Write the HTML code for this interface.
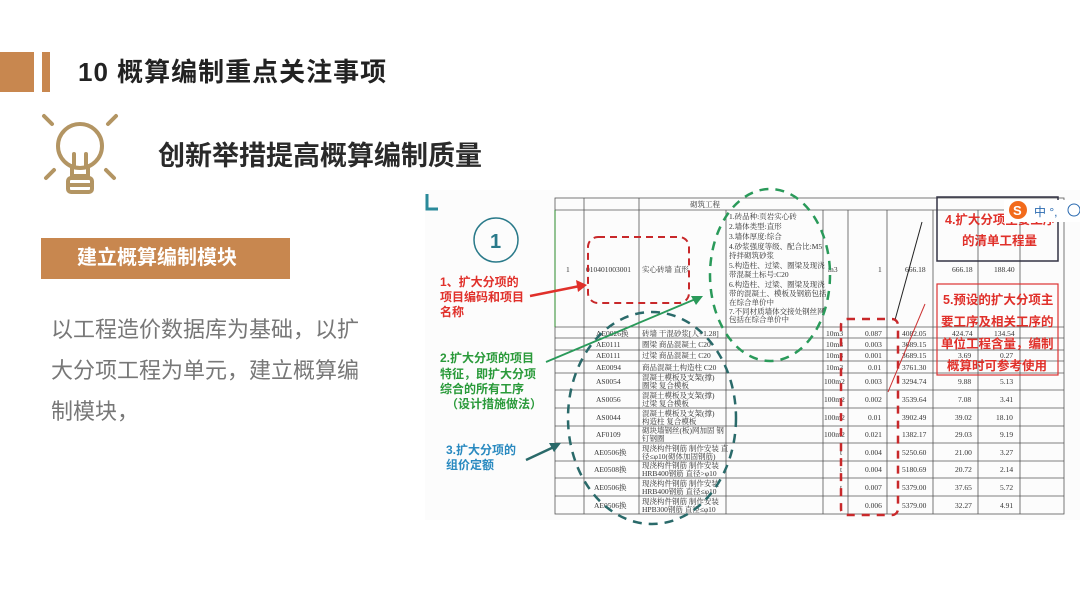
<!DOCTYPE html>
<html><head><meta charset="utf-8"><style>
*{margin:0;padding:0;box-sizing:border-box}
body{width:1080px;height:606px;background:#fff;position:relative;overflow:hidden;font-family:"Liberation Sans","Noto Sans CJK SC",sans-serif}
.a{position:absolute}
</style></head><body>
<div class="a" style="left:0;top:52px;width:34px;height:40px;background:#c8874f"></div>
<div class="a" style="left:42px;top:52px;width:8px;height:40px;background:#c8874f"></div>
<div class="a" style="left:78px;top:55px;font-size:26px;font-weight:bold;color:#222;line-height:34px;letter-spacing:1px">10 概算编制重点关注事项</div>
<svg class="a" style="left:40px;top:108px" width="84" height="90" viewBox="0 0 84 90">
<g stroke="#b39563" stroke-width="4" fill="none" stroke-linecap="round">
<circle cx="40" cy="38" r="22"/>
<path d="M4 8 L12 16 M76 8 L68 16 M6 70 L14 62 M74 70 L66 62"/>
<path d="M32 58 L32 68 L48 68 L48 58 M34 46 L34 58 M46 46 L46 58"/>
<rect x="28" y="70" width="24" height="14" rx="3"/>
<path d="M28 77 L52 77"/>
</g></svg>
<div class="a" style="left:158px;top:138px;font-size:27px;font-weight:bold;color:#2a2a2a;line-height:36px">创新举措提高概算编制质量</div>
<div class="a" style="left:41px;top:238px;width:249px;height:41px;background:#c8874f;color:#fff;font-size:20px;font-weight:bold;line-height:41px;padding-left:36px">建立概算编制模块</div>
<div class="a" style="left:51px;top:309px;width:330px;font-size:22px;color:#777;line-height:41px">以工程造价数据库为基础，以扩<br>大分项工程为单元，建立概算编<br>制模块，</div>

<svg class="a" style="left:0;top:0" width="1080" height="606" font-family="Liberation Serif,Noto Serif CJK SC,serif">
<rect x="425" y="190" width="655" height="330" fill="#fcfcfc"/>
<path d="M427 194 L427 209 L438 209" stroke="#2a8a9a" stroke-width="3" fill="none"/>
<g stroke="#555" stroke-width="0.8" fill="none">
<rect x="555" y="198" width="509" height="316"/>
<path d="M555 210 H1064 M555 327 H1064 M555 338 H1064 M555 350 H1064 M555 361 H1064 M555 373 H1064 M555 390 H1064 M555 408 H1064 M555 426 H1064 M555 443 H1064 M555 461 H1064 M555 478 H1064 M555 496 H1064"/>
<path d="M584 198 V514 M639 198 V514 M726 210 V514 M823 210 V514 M848 210 V514 M887 210 V514 M933 210 V514 M978 210 V514 M1020 210 V514"/>
</g>
<path d="M555 210 V327" stroke="#2a8a2a" stroke-width="1"/>
<g font-size="7.5" fill="#333">
<text x="690" y="207">砌筑工程</text>
<text x="566" y="272">1</text><text x="586" y="272">010401003001</text><text x="642" y="272">实心砖墙 直形</text>
<text x="729" y="219">1.砖品种:页岩实心砖</text><text x="729" y="229">2.墙体类型:直形</text><text x="729" y="239">3.墙体厚度:综合</text>
<text x="729" y="249">4.砂浆强度等级、配合比:M5</text><text x="729" y="258">持拌砌筑砂浆</text>
<text x="729" y="268">5.构造柱、过梁、圈梁及现浇</text><text x="729" y="277">带混凝土标号:C20</text>
<text x="729" y="287">6.构造柱、过梁、圈梁及现浇</text><text x="729" y="296">带的混凝土、模板及钢筋包括</text><text x="729" y="305">在综合单价中</text>
<text x="729" y="314">7.不同材质墙体交接处钢丝网</text><text x="729" y="322">包括在综合单价中</text>
<text x="828" y="272">m3</text><text x="878" y="272">1</text><text x="905" y="272">666.18</text><text x="952" y="272">666.18</text><text x="994" y="272">188.40</text>
<text x="596" y="336">AE0026换</text><text x="642" y="336">砖墙 干混砂浆[人+1.28]</text><text x="826" y="336">10m3</text><text x="865" y="336">0.087</text><text x="902" y="336">4082.05</text><text x="952" y="336">424.74</text><text x="994" y="336">134.54</text>
<text x="596" y="347">AE0111</text><text x="642" y="347">圈梁 商品混凝土 C20</text><text x="826" y="347">10m3</text><text x="865" y="347">0.003</text><text x="902" y="347">3689.15</text>
<text x="596" y="358">AE0111</text><text x="642" y="358">过梁 商品混凝土 C20</text><text x="826" y="358">10m3</text><text x="865" y="358">0.001</text><text x="902" y="358">3689.15</text><text x="958" y="358">3.69</text><text x="1000" y="358">0.27</text>
<text x="596" y="370">AE0094</text><text x="642" y="370">商品混凝土构造柱 C20</text><text x="826" y="370">10m3</text><text x="868" y="370">0.01</text><text x="902" y="370">3761.30</text>
<text x="596" y="384">AS0054</text><text x="642" y="380">混凝土模板及支架(撑)</text><text x="642" y="388">圈梁 复合模板</text><text x="824" y="384">100m2</text><text x="865" y="384">0.003</text><text x="902" y="384">3294.74</text><text x="958" y="384">9.88</text><text x="1000" y="384">5.13</text>
<text x="596" y="402">AS0056</text><text x="642" y="398">混凝土模板及支架(撑)</text><text x="642" y="406">过梁 复合模板</text><text x="824" y="402">100m2</text><text x="865" y="402">0.002</text><text x="902" y="402">3539.64</text><text x="958" y="402">7.08</text><text x="1000" y="402">3.41</text>
<text x="596" y="420">AS0044</text><text x="642" y="416">混凝土模板及支架(撑)</text><text x="642" y="424">构造柱 复合模板</text><text x="824" y="420">100m2</text><text x="868" y="420">0.01</text><text x="902" y="420">3902.49</text><text x="955" y="420">39.02</text><text x="996" y="420">18.10</text>
<text x="596" y="437">AF0109</text><text x="642" y="433">砌块墙钢丝(板)网加固 钢</text><text x="642" y="441">钉钢圈</text><text x="824" y="437">100m2</text><text x="865" y="437">0.021</text><text x="902" y="437">1382.17</text><text x="955" y="437">29.03</text><text x="1000" y="437">9.19</text>
<text x="594" y="455">AE0506换</text><text x="642" y="451">现浇构件钢筋 制作安装 直</text><text x="642" y="459">径≤φ10(砌体加固钢筋)</text><text x="840" y="455">t</text><text x="865" y="455">0.004</text><text x="902" y="455">5250.60</text><text x="955" y="455">21.00</text><text x="1000" y="455">3.27</text>
<text x="594" y="472">AE0508换</text><text x="642" y="468">现浇构件钢筋 制作安装</text><text x="642" y="476">HRB400钢筋 直径&gt;φ10</text><text x="840" y="472">t</text><text x="865" y="472">0.004</text><text x="902" y="472">5180.69</text><text x="955" y="472">20.72</text><text x="1000" y="472">2.14</text>
<text x="594" y="490">AE0506换</text><text x="642" y="486">现浇构件钢筋 制作安装</text><text x="642" y="494">HRB400钢筋 直径≤φ10</text><text x="840" y="490">t</text><text x="865" y="490">0.007</text><text x="902" y="490">5379.00</text><text x="955" y="490">37.65</text><text x="1000" y="490">5.72</text>
<text x="594" y="508">AE0506换</text><text x="642" y="504">现浇构件钢筋 制作安装</text><text x="642" y="512">HPB300钢筋 直径≤φ10</text><text x="840" y="508">t</text><text x="865" y="508">0.006</text><text x="902" y="508">5379.00</text><text x="955" y="508">32.27</text><text x="1000" y="508">4.91</text>
</g>
<path d="M895 320 L922 222" stroke="#222" stroke-width="1"/>
<path d="M925 304 L888 392" stroke="#c33" stroke-width="1"/>
<circle cx="496" cy="240" r="22" fill="none" stroke="#2a7a8a" stroke-width="1.5"/>
<text x="490" y="248" font-family="Liberation Sans,sans-serif" font-size="20" font-weight="bold" fill="#2a7a8a">1</text>
<rect x="588" y="237" width="101" height="66" rx="10" fill="none" stroke="#c8282a" stroke-width="2" stroke-dasharray="7 5"/>
<ellipse cx="770" cy="275" rx="60" ry="86" fill="none" stroke="#2a9a5a" stroke-width="2.5" stroke-dasharray="9 7"/>
<ellipse cx="652" cy="418" rx="84" ry="106" fill="none" stroke="#2a6a6a" stroke-width="2.5" stroke-dasharray="9 7"/>
<rect x="841" y="319" width="57" height="196" rx="6" fill="none" stroke="#c8282a" stroke-width="2.5" stroke-dasharray="8 7"/>
<rect x="937" y="197" width="121" height="64" fill="none" stroke="#334" stroke-width="1.5"/>
<rect x="937" y="284" width="121" height="91" fill="none" stroke="#d33" stroke-width="1.2"/>
<g font-family="Liberation Sans,Noto Sans CJK SC,sans-serif" font-weight="bold" font-size="12.5" fill="#e0302a">
<text x="945" y="224">4.扩大分项主要工序</text><text x="962" y="245">的清单工程量</text>
<text x="943" y="304">5.预设的扩大分项主</text><text x="941" y="326">要工序及相关工序的</text><text x="941" y="348">单位工程含量，编制</text><text x="947" y="370">概算时可参考使用</text>
</g>
<g font-family="Liberation Sans,Noto Sans CJK SC,sans-serif" font-weight="bold" font-size="12">
<g fill="#e0302a"><text x="440" y="286">1、扩大分项的</text><text x="440" y="301">项目编码和项目</text><text x="440" y="316">名称</text></g>
<g fill="#2a9a3a"><text x="440" y="362">2.扩大分项的项目</text><text x="440" y="378">特征，即扩大分项</text><text x="440" y="393">综合的所有工序</text><text x="446" y="408">（设计措施做法）</text></g>
<g fill="#2a8ac0"><text x="446" y="454">3.扩大分项的</text><text x="446" y="469">组价定额</text></g>
</g>
<path d="M530 296 L580 286" stroke="#e0302a" stroke-width="2.5"/><path d="M587 285 L576 280 L578 292Z" fill="#e0302a"/>
<path d="M546 362 L698 298" stroke="#2a9a5a" stroke-width="1.8"/><path d="M703 296 L691 296 L696 305Z" fill="#2a9a5a"/>
<path d="M526 460 L556 446" stroke="#2a6a6a" stroke-width="2.5"/><path d="M561 443 L549 443 L554 452Z" fill="#2a6a6a"/>
<rect x="1004" y="200" width="76" height="22" fill="#fff"/>
<circle cx="1018" cy="210" r="9" fill="#f26a1b"/><text x="1013" y="215" font-family="Liberation Sans,sans-serif" font-size="13" font-weight="bold" fill="#fff">S</text>
<text x="1034" y="216" font-family="Liberation Sans,Noto Sans CJK SC,sans-serif" font-size="12" fill="#2a6ab0">中 °,</text>
<circle cx="1074" cy="210" r="6" fill="none" stroke="#2a6ab0"/>
</svg>
</body></html>
